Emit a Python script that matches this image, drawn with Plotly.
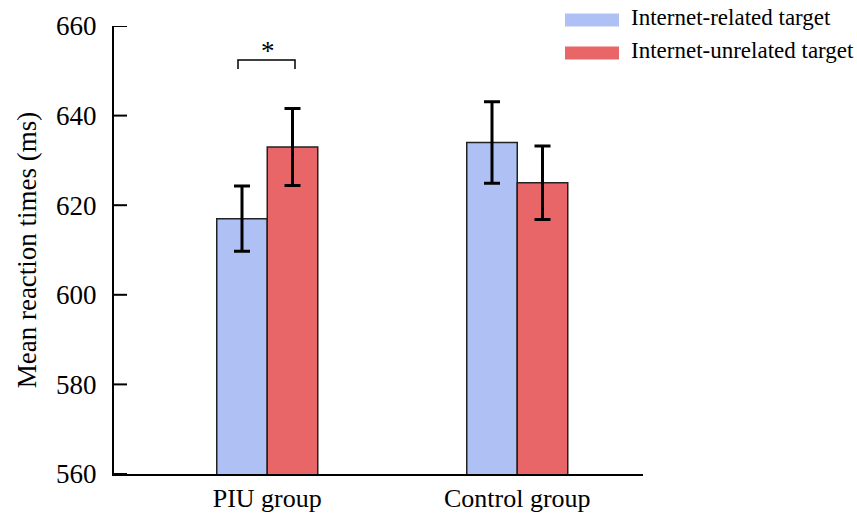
import plotly.graph_objects as go

categories = ["PIU group", "Control group"]
series_names = ["Internet-related target", "Internet-unrelated target"]
related_means = [617, 634]
related_err = [7.3, 9.1]
unrelated_means = [633, 625]
unrelated_err = [8.6, 8.2]
colors = ["#AFC0F5", "#E96668"]
y_ticks = [560, 580, 600, 620, 640, 660]

FONT = "Liberation Serif, Times New Roman, serif"
x_pos = list(range(len(categories)))

L, R, T, B = 114, 214, 26, 41
W, H = 857, 515
PW, PH = W - L - R, H - T - B

fig = go.Figure()
for name, means, errs, col in [
    (series_names[0], related_means, related_err, colors[0]),
    (series_names[1], unrelated_means, unrelated_err, colors[1]),
]:
    fig.add_trace(go.Bar(
        x=x_pos, y=means, name=name,
        marker=dict(color=col, line=dict(color="#222222", width=1.5)),
        error_y=dict(type="data", array=errs, visible=True,
                     color="black", thickness=3, width=8),
        showlegend=False,
    ))

fig.update_layout(
    template="none",
    width=W, height=H,
    margin=dict(l=L, r=R, t=T, b=B),
    barmode="group", bargap=0.596, bargroupgap=0,
    plot_bgcolor="white", paper_bgcolor="white",
    font=dict(family=FONT, color="black"),
    xaxis=dict(range=[-0.613, 1.503], tickvals=x_pos, ticktext=categories,
               showline=True, linecolor="black", linewidth=2,
               ticks="", showgrid=False, zeroline=False, automargin=False,
               tickfont=dict(size=26, family=FONT, color="black")),
    yaxis=dict(range=[560, 660], tickvals=y_ticks,
               showline=True, linecolor="black", linewidth=2,
               ticks="", ticklabelstandoff=10,
               showgrid=False, zeroline=False, automargin=False,
               tickfont=dict(size=27, family=FONT, color="black"),
               title=dict(text="Mean reaction times (ms)", standoff=12,
                          font=dict(size=27, family=FONT, color="black"))),
)

# inward tick marks at each y tick value
for t in y_ticks:
    fig.add_shape(type="line", xref="paper", yref="y",
                  x0=0, x1=13 / PW, y0=t, y1=t,
                  line=dict(color="black", width=2))

# significance bracket
fig.add_shape(type="path", xref="x", yref="y",
              path="M -0.117,650.4 L -0.117,652.4 L 0.111,652.4 L 0.111,650.4",
              line=dict(color="black", width=1.5))
fig.add_annotation(x=0.003, y=650.6, xref="x", yref="y", text="*",
                   showarrow=False, yanchor="bottom",
                   font=dict(size=27, family=FONT, color="black"))

# custom legend
legend_rows = [20, 53]
for i, (name, col) in enumerate(zip(series_names, colors)):
    yc = (H - B - legend_rows[i]) / PH
    fig.add_shape(type="rect", xref="paper", yref="paper",
                  x0=(565 - L) / PW, x1=(619 - L) / PW,
                  y0=yc - 6.5 / PH, y1=yc + 6.5 / PH,
                  fillcolor=col, line=dict(width=0))
    fig.add_annotation(x=(629 - L) / PW, y=yc + 2 / PH,
                       xref="paper", yref="paper", text=name, showarrow=False,
                       xanchor="left", yanchor="middle",
                       font=dict(size=23, family=FONT, color="black"))

fig.write_html("out.html", config={"displayModeBar": False},
               post_script="document.body.style.margin='0';document.body.style.overflow='hidden';")
